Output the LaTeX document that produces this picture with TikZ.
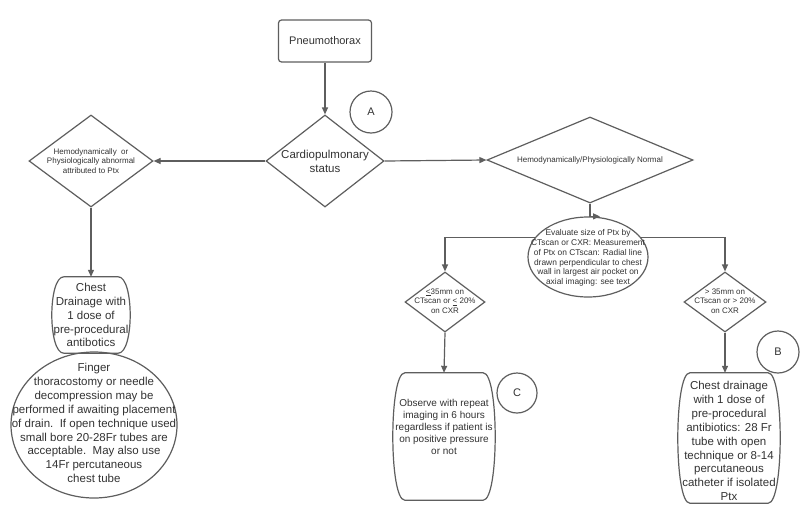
\documentclass[tikz,border=0pt]{standalone}
\usepackage{fontspec}
\setmainfont{Liberation Sans}
\usetikzlibrary{shapes.geometric,arrows.meta,calc}
\definecolor{ln}{HTML}{5E5E5E}
\definecolor{tx}{HTML}{333333}
\tikzset{
  shp/.style={draw=ln, line width=1.2pt},
  arr/.style={draw=ln, line width=1.2pt, -{Triangle[length=7pt,width=6pt]}},
  txt/.style={text=tx, align=center, inner sep=0pt},
  hold/.style={draw=none, inner sep=0pt},
  dia/.style={shp, diamond, inner sep=0pt},
  ell/.style={shp, ellipse, inner sep=0pt},
  lett/.style={shp, circle, inner sep=0pt, minimum size=42pt, text=tx, font=\fontsize{11}{13}\selectfont},
  fsmall/.style={font=\fontsize{8}{9.6}\selectfont},
  fev/.style={font=\fontsize{8.4}{9.8}\selectfont},
  fbig/.style={font=\fontsize{11.5}{13.9}\selectfont},
  fmid/.style={font=\fontsize{10}{11.8}\selectfont},
}
\newcommand\drawbarrel[1]{%
  \draw[shp] ($(#1.north west)+(12,0)$) -- ($(#1.north east)+(-12,0)$)
    .. controls ($(#1.north east)+(4,0)$) and ($(#1.south east)+(4,0)$) .. ($(#1.south east)+(-12,0)$)
    -- ($(#1.south west)+(12,0)$)
    .. controls ($(#1.south west)+(-4,0)$) and ($(#1.north west)+(-4,0)$) .. cycle;}
\begin{document}
\begin{tikzpicture}[x=1pt,y=-1pt]
\useasboundingbox[fill=white] (0,0) rectangle (800,509);

% top box
\node[shp, rounded corners=3pt, minimum width=93pt, minimum height=42pt, txt, font=\fontsize{11}{13}\selectfont] (pn) at (325,41) {Pneumothorax};

% cardiopulmonary diamond
\node[dia, minimum width=118pt, minimum height=92pt] (cp) at (325,161) {};
\node[txt, fbig] (cpt) at (325,161) {Cardiopulmonary\\status};
\node[lett] (ca) at (371,112) {A};

% left diamond
\node[dia, minimum width=124pt, minimum height=92pt] (hd) at (91,161) {};
\node[txt, fsmall] (hdt) at (91,161) {Hemodynamically\ \ or\\Physiologically abnormal\\attributed to Ptx};

% right diamond
\node[dia, minimum width=206pt, minimum height=86pt] (hn) at (590,160) {};
\node[txt, fsmall] (hnt) at (590,160) {Hemodynamically/Physiologically Normal};

% left chest drainage box
\node[hold, minimum width=78pt, minimum height=76pt] (cd) at (91,315) {};
\drawbarrel{cd}
\node[txt, fbig] (cdt) at (91,315) {Chest\\Drainage with\\1 dose of\\pre-procedural\\antibotics};

% finger ellipse
\node[ell, minimum width=166pt, minimum height=146pt] (fe) at (94,425) {};
\node[txt, fbig] (fet) at (94,423) {Finger\\thoracostomy or needle\\decompression may be\\performed if awaiting placement\\of drain.\ \ If open technique used\\small bore 20-28Fr tubes are\\acceptable.\ \ May also use\\14Fr percutaneous\\chest tube};

% evaluate ellipse
\node[ell, minimum width=120pt, minimum height=80pt] (ev) at (588,257) {};
\node[txt, fev] (evt) at (588,258) {Evaluate size of Ptx by\\CTscan or CXR: Measurement\\of Ptx on CTscan: Radial line\\drawn perpendicular to chest\\wall in largest air pocket on\\axial imaging: see text};

% small diamonds
\node[dia, minimum width=80pt, minimum height=60pt] (sl) at (445,302) {};
\node[txt, fsmall] (slt) at (445,301) {\underline{<}35mm on\\CTscan or \underline{<} 20\%\\on CXR};
\node[dia, minimum width=82pt, minimum height=60pt] (sr) at (725,302) {};
\node[txt, fsmall] (srt) at (725,301) {> 35mm on\\CTscan or > 20\%\\on CXR};

% observe box
\node[hold, minimum width=102pt, minimum height=127pt] (ob) at (444,436.5) {};
\drawbarrel{ob}
\node[txt, fmid] (obt) at (444,427) {Observe with repeat\\imaging in 6 hours\\regardless if patient is\\on positive pressure\\or not};
\node[lett, minimum size=40pt] (cc) at (517,393) {C};

% right chest drainage box
\node[hold, minimum width=102pt, minimum height=130pt] (cr) at (729,438) {};
\drawbarrel{cr}
\node[txt, fbig] (crt) at (729,441) {Chest drainage\\with 1 dose of\\pre-procedural\\antibiotics: 28 Fr\\tube with open\\technique or 8-14\\percutaneous\\catheter if isolated\\Ptx};
\node[lett] (cb) at (778,352) {B};

% connectors
\draw[arr] (pn.south) -- (cp.north);
\draw[arr] (cp.west) -- (hd.east);
\draw[arr] (cp.east) -- (hn.west);
\draw[arr] (hd.south) -- (cd.north);
\coordinate (evtop) at ($(hn.south |- ev.north)+(10,0)$);
\draw[arr] (hn.south) |- (evtop);
\draw[arr] (ev.160) -| (sl.north);
\draw[arr] (ev.20) -| (sr.north);
\draw[arr] (sl.south) -- (ob.north);
\draw[arr] (sr.south) -- (sr.south |- cr.north);
\end{tikzpicture}
\end{document}
